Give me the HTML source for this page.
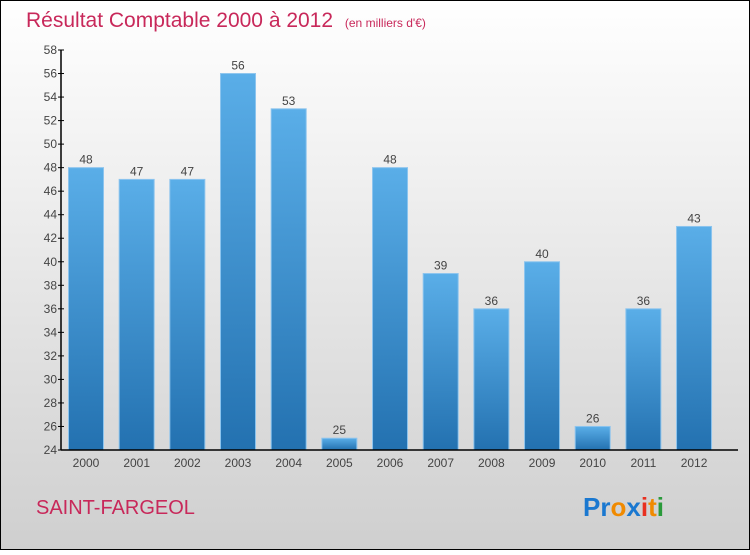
<!DOCTYPE html>
<html><head><meta charset="utf-8"><style>
body{margin:0}
#c{width:750px;height:550px;position:relative;font-family:"Liberation Sans",sans-serif}
</style></head><body>
<div id="c">
<svg width="750" height="550" id="svg">
<defs>
<linearGradient id="bg" x1="0" y1="0" x2="0" y2="1"><stop offset="0" stop-color="#ffffff"/><stop offset="1" stop-color="#cfcfcf"/></linearGradient>
<linearGradient id="bar" x1="0" y1="0" x2="0" y2="1"><stop offset="0" stop-color="#5aaee8"/><stop offset="1" stop-color="#2371b0"/></linearGradient>
</defs>
<rect x="0.5" y="0.5" width="749" height="549" fill="url(#bg)" stroke="#000"/>
<text x="26" y="27" font-size="21" fill="#c8285a">Résultat Comptable 2000 à 2012 <tspan font-size="12" dx="6">(en milliers d'€)</tspan></text>
<g id="plot"></g>
<text x="36" y="514" font-size="20" fill="#c8285a">SAINT-FARGEOL</text>
<text x="583" y="516" font-size="26" font-weight="bold"><tspan fill="#1a78d0">Pr</tspan><tspan fill="#f08a00">o</tspan><tspan fill="#1a78d0">x</tspan><tspan fill="#e83020">i</tspan><tspan fill="#f08a00">t</tspan><tspan fill="#2a9a3a">i</tspan></text>
</svg>
</div>
<script>
const categories=["2000","2001","2002","2003","2004","2005","2006","2007","2008","2009","2010","2011","2012"];
const values=[48,47,47,56,53,25,48,39,36,40,26,36,43];
const yTicks=[24,26,28,30,32,34,36,38,40,42,44,46,48,50,52,54,56,58];
const NS="http://www.w3.org/2000/svg";
const g=document.getElementById('plot');
const yMin=24,yMax=58,yTop=50,yBot=450,xL=61,x0=86,step=50.67,bw=35;
const y=v=>yBot-(v-yMin)/(yMax-yMin)*(yBot-yTop);
const x=i=>x0+i*step;
function mk(t,a){const e=document.createElementNS(NS,t);for(const k in a)e.setAttribute(k,a[k]);g.appendChild(e);return e;}
values.forEach((v,i)=>{
 const r=mk('rect',{x:x(i)-bw/2,y:y(v),width:bw,height:yBot-y(v),fill:'url(#bar)',stroke:'#8cc4ee','stroke-width':1});
 
 
 const t=mk('text',{x:x(i),y:y(v)-4,'text-anchor':'middle','font-size':12,fill:'#444'});
 t.textContent=v;
 
 
 const c=mk('text',{x:x(i),y:467,'text-anchor':'middle','font-size':12,fill:'#444'});
 c.textContent=categories[i];
 
 
});
yTicks.forEach(v=>{
 const l=mk('line',{x1:xL-3,x2:xL+3,y1:y(v),y2:y(v),stroke:'#000'});
 
 
 const t=mk('text',{x:xL-4,y:y(v)+4,'text-anchor':'end','font-size':12,fill:'#444'});
 t.textContent=v;
 
 
});
const ya=mk('line',{x1:xL,x2:xL,y1:yTop,y2:yBot,stroke:'#000','stroke-width':1.5});


const xa=mk('line',{x1:xL,x2:738,y1:yBot,y2:yBot,stroke:'#000','stroke-width':1.5});


</script>
</body></html>
